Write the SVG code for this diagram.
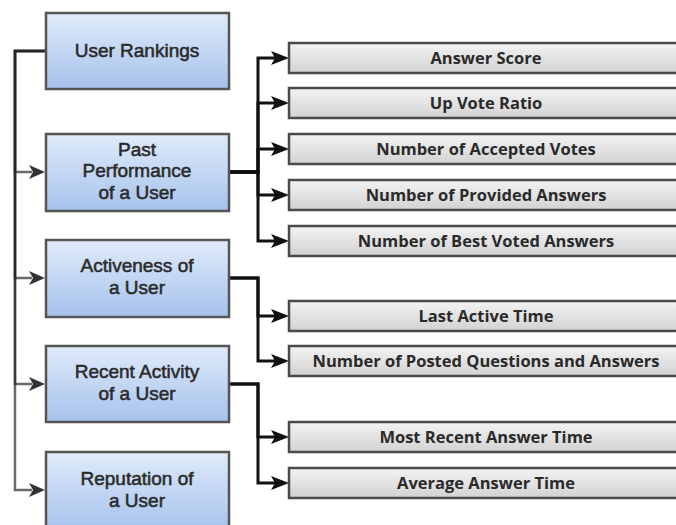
<svg xmlns="http://www.w3.org/2000/svg" width="676" height="525" viewBox="0 0 676 525">
  <defs>
    <linearGradient id="blueFill" x1="0" y1="0" x2="0" y2="1">
      <stop offset="0" stop-color="#e0ebfa"/>
      <stop offset="1" stop-color="#a6c2ec"/>
    </linearGradient>
    <linearGradient id="grayFill" x1="0" y1="0" x2="0" y2="1">
      <stop offset="0" stop-color="#f3f3f3"/>
      <stop offset="1" stop-color="#d2d2d2"/>
    </linearGradient>
  </defs>
  <style>
    .main rect { fill: url(#blueFill); stroke: #555; stroke-width: 2.5; }
    .main text { font-family: "Liberation Sans", Arial, sans-serif; font-size: 19px; fill: #2b2b2b; text-anchor: middle; stroke: #2b2b2b; stroke-width: 0.55; }
    .leaf rect { fill: url(#grayFill); stroke: #4a4a4a; stroke-width: 2.5; }
    .leaf text { font-family: "Open Sans", "Noto Sans", sans-serif; font-size: 16.5px; font-weight: bold; fill: #2a2a2a; text-anchor: middle; }
    .trunk { fill: none; stroke: #222; stroke-opacity: 0.68; stroke-width: 2.5; }
    .branch { fill: none; stroke: #111; stroke-width: 3; }
    .head-gray { fill: #333; }
    .head-black { fill: #111; }
  </style>

  <!-- connectors -->
  <g id="connectors">
    <path class="trunk" d="M45,51 H15 V172 H32"/>
    <path class="trunk" d="M45,51 H15 V278 H32"/>
    <path class="trunk" d="M45,51 H15 V384 H32"/>
    <path class="trunk" d="M45,51 H15 V490 H32"/>
    <path class="head-gray" d="M29,165 L45,172 L29,179 L33,172 Z"/>
    <path class="head-gray" d="M29,271 L45,278 L29,285 L33,278 Z"/>
    <path class="head-gray" d="M29,377 L45,384 L29,391 L33,384 Z"/>
    <path class="head-gray" d="M29,483 L45,490 L29,497 L33,490 Z"/>

    <path class="branch" d="M229,172 H258 V58 H276"/>
    <path class="branch" d="M229,172 H258 V103 H276"/>
    <path class="branch" d="M229,172 H258 V149 H276"/>
    <path class="branch" d="M229,172 H258 V195 H276"/>
    <path class="branch" d="M229,172 H258 V241 H276"/>
    <path class="branch" d="M229,278 H258 V316 H276"/>
    <path class="branch" d="M229,278 H258 V361 H276"/>
    <path class="branch" d="M229,384 H258 V437 H276"/>
    <path class="branch" d="M229,384 H258 V483 H276"/>
    <path class="head-black" d="M271,51 L289,58 L271,65 L275,58 Z"/>
    <path class="head-black" d="M271,96 L289,103 L271,110 L275,103 Z"/>
    <path class="head-black" d="M271,142 L289,149 L271,156 L275,149 Z"/>
    <path class="head-black" d="M271,188 L289,195 L271,202 L275,195 Z"/>
    <path class="head-black" d="M271,234 L289,241 L271,248 L275,241 Z"/>
    <path class="head-black" d="M271,309 L289,316 L271,323 L275,316 Z"/>
    <path class="head-black" d="M271,354 L289,361 L271,368 L275,361 Z"/>
    <path class="head-black" d="M271,430 L289,437 L271,444 L275,437 Z"/>
    <path class="head-black" d="M271,476 L289,483 L271,490 L275,483 Z"/>
  </g>

  <!-- criteria -->
  <g id="user-rankings" class="main">
    <rect x="46" y="13" width="183" height="76"/>
    <text x="137" y="57">User Rankings</text>
  </g>
  <g id="past-performance" class="main">
    <rect x="46" y="134" width="183" height="77"/>
    <text x="137" y="156">Past</text>
    <text x="137" y="177">Performance</text>
    <text x="137" y="199">of a User</text>
  </g>
  <g id="activeness" class="main">
    <rect x="46" y="240" width="183" height="77"/>
    <text x="137" y="272">Activeness of</text>
    <text x="137" y="294">a User</text>
  </g>
  <g id="recent-activity" class="main">
    <rect x="46" y="346" width="183" height="76"/>
    <text x="137" y="378">Recent Activity</text>
    <text x="137" y="400">of a User</text>
  </g>
  <g id="reputation" class="main">
    <rect x="46" y="452" width="183" height="78"/>
    <text x="137" y="485">Reputation of</text>
    <text x="137" y="507">a User</text>
  </g>

  <!-- measures -->
  <g id="answer-score" class="leaf">
    <rect x="289" y="43" width="395" height="30"/>
    <text x="486" y="64">Answer Score</text>
  </g>
  <g id="up-vote-ratio" class="leaf">
    <rect x="289" y="88" width="395" height="30"/>
    <text x="486" y="109">Up Vote Ratio</text>
  </g>
  <g id="accepted-votes" class="leaf">
    <rect x="289" y="134" width="395" height="30"/>
    <text x="486" y="155">Number of Accepted Votes</text>
  </g>
  <g id="provided-answers" class="leaf">
    <rect x="289" y="180" width="395" height="30"/>
    <text x="486" y="201">Number of Provided Answers</text>
  </g>
  <g id="best-voted-answers" class="leaf">
    <rect x="289" y="226" width="395" height="30"/>
    <text x="486" y="247">Number of Best Voted Answers</text>
  </g>
  <g id="last-active-time" class="leaf">
    <rect x="289" y="301" width="395" height="30"/>
    <text x="486" y="322">Last Active Time</text>
  </g>
  <g id="posted-questions-answers" class="leaf">
    <rect x="289" y="346" width="395" height="30"/>
    <text x="486" y="367">Number of Posted Questions and Answers</text>
  </g>
  <g id="most-recent-answer-time" class="leaf">
    <rect x="289" y="422" width="395" height="30"/>
    <text x="486" y="443">Most Recent Answer Time</text>
  </g>
  <g id="average-answer-time" class="leaf">
    <rect x="289" y="468" width="395" height="30"/>
    <text x="486" y="489">Average Answer Time</text>
  </g>
</svg>
